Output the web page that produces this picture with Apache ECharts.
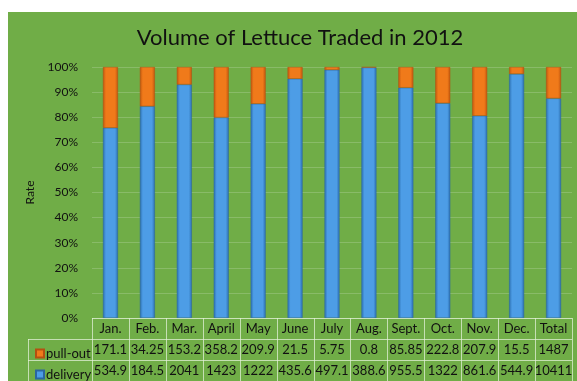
<!DOCTYPE html>
<html>
<head>
<meta charset="utf-8">
<script src="https://cdn.jsdelivr.net/npm/echarts@6/dist/echarts.min.js"></script>
<style>
html,body{margin:0;padding:0;background:#fff;}
#c{width:577px;height:381px;}
</style>
</head>
<body>
<div id="c"></div>
<script>
const categories = ['Jan.','Feb.','Mar.','April','May','June','July','Aug.','Sept.','Oct.','Nov.','Dec.','Total'];
const pullOut = ['171.1','34.25','153.2','358.2','209.9','21.5','5.75','0.8','85.85','222.8','207.9','15.5','1487'];
const delivery = ['534.9','184.5','2041','1423','1222','435.6','497.1','388.6','955.5','1322','861.6','544.9','10411'];
const yTicks = [0,10,20,30,40,50,60,70,80,90,100];

const delivPct = delivery.map((d,i)=> +(parseFloat(d)/(parseFloat(d)+parseFloat(pullOut[i]))*100).toFixed(2));
const pullPct = delivPct.map(v => +(100 - v).toFixed(2));

const chart = echarts.init(document.getElementById('c'), null, {renderer:'canvas'});
const FONT = 'Lato';
const gLeft = 92, gRight = 572, gTop = 67, gBottom = 318;
const colW = (gRight - gLeft) / categories.length;
const lineColor = 'rgba(225,240,215,0.75)';

const graphics = [
  {type:'rect', shape:{x:8,y:12,width:569,height:369}, style:{fill:'#70AD47'}, z:-10, silent:true}
];
const hl = (x1,y,x2)=>({type:'line', shape:{x1,y1:y,x2,y2:y}, style:{stroke:lineColor,lineWidth:1}, z:5, silent:true});
const vl = (x,y1,y2)=>({type:'line', shape:{x1:x,y1,x2:x,y2}, style:{stroke:lineColor,lineWidth:1}, z:5, silent:true});
graphics.push(hl(gLeft, 318.5, gRight));
graphics.push(hl(28, 339.5, gRight));
graphics.push(hl(28, 360.5, gRight));
graphics.push(vl(28.5, 339, 381));
for (let i=0;i<=categories.length;i++){
  graphics.push(vl(Math.round(gLeft + i*colW)+0.5, 318, 381));
}

const barGrad = (edge, mid) => new echarts.graphic.LinearGradient(0,0,1,0,[
  {offset:0,color:edge},{offset:0.2,color:mid},{offset:0.8,color:mid},{offset:1,color:edge}
]);

const valAxis = (data, offset) => ({
  type:'category', data, gridIndex:0, position:'bottom', offset,
  axisLine:{show:false}, axisTick:{show:false},
  axisLabel:{interval:0, color:'#111', fontFamily:FONT, fontSize:13, margin:4}
});

chart.setOption({
  animation:false,
  backgroundColor:'#ffffff',
  graphic: graphics,
  title:{
    text:'Volume of Lettuce Traded in 2012',
    left:295, top:22, textAlign:'center',
    textStyle:{fontFamily:FONT, fontSize:22, fontWeight:'normal', color:'#111'}
  },
  legend:[
    {data:['pull-out'], left:30, top:342, itemWidth:8, itemHeight:8, itemGap:4, icon:'rect',
     textStyle:{fontFamily:FONT, fontSize:13, color:'#111', padding:[0,0,0,-3]}},
    {data:['delivery'], left:30, top:363, itemWidth:8, itemHeight:8, itemGap:4, icon:'rect',
     textStyle:{fontFamily:FONT, fontSize:13, color:'#111', padding:[0,0,0,-3]}}
  ],
  grid:{left:gLeft, right:577-gRight, top:gTop, bottom:381-gBottom, containLabel:false},
  xAxis:[
    valAxis(categories, 0),
    valAxis(pullOut, 21),
    valAxis(delivery, 42)
  ],
  yAxis:{
    type:'value', min:0, max:100, interval:10,
    name:'Rate', nameLocation:'middle', nameGap:52, nameRotate:90,
    nameTextStyle:{fontFamily:FONT, fontSize:12, color:'#111'},
    axisLine:{show:false}, axisTick:{show:false},
    axisLabel:{formatter:'{value}%', color:'#111', fontFamily:FONT, fontSize:12, margin:14},
    splitLine:{lineStyle:{color:'rgba(255,255,255,0.18)', width:1}}
  },
  series:[
    {name:'delivery', type:'bar', stack:'a', xAxisIndex:0, data:delivPct, barWidth:15,
     itemStyle:{color:barGrad('#2C6FB0','#4D9DE6'), borderColor:'#2A66A0', borderWidth:0.5}},
    {name:'pull-out', type:'bar', stack:'a', xAxisIndex:0, data:pullPct, barWidth:15,
     itemStyle:{color:barGrad('#C0560E','#F07A1A'), borderColor:'#B55010', borderWidth:0.5}}
  ]
});
</script>
</body>
</html>
